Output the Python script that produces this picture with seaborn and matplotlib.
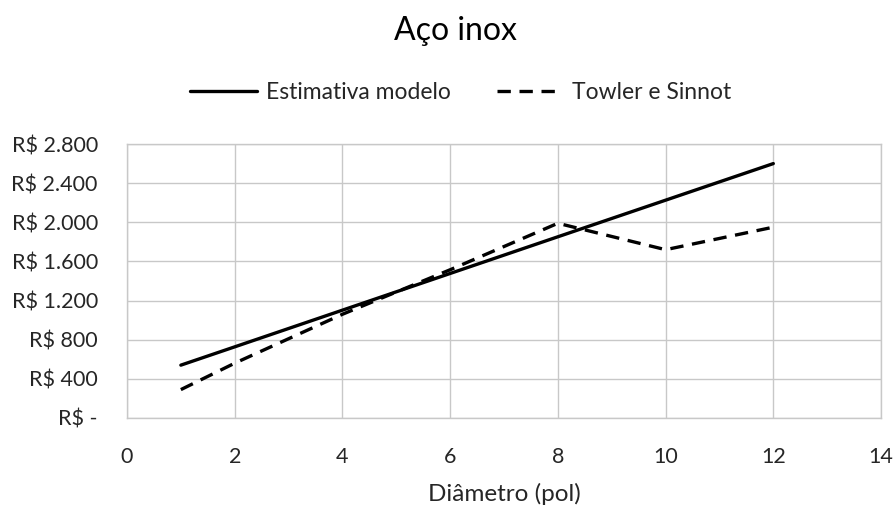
import matplotlib
matplotlib.use("Agg")
import matplotlib.pyplot as plt
import matplotlib.ticker as mticker
import seaborn as sns
import pandas as pd

# ---- data ----
diametro = [1, 2, 4, 6, 8, 10, 12]
estimativa_modelo = [540, 727, 1102, 1477, 1852, 2226, 2600]
towler_sinnot = [290, 560, 1060, 1515, 1990, 1720, 1950]
series_names = ["Estimativa modelo", "Towler e Sinnot"]
x_ticks = [0, 2, 4, 6, 8, 10, 12, 14]
y_ticks = [0, 400, 800, 1200, 1600, 2000, 2400, 2800]

df = pd.DataFrame({
    "x": diametro * 2,
    "y": estimativa_modelo + towler_sinnot,
    "serie": [series_names[0]] * len(diametro) + [series_names[1]] * len(diametro),
})

sns.set_theme(style="white")
plt.rcParams["font.family"] = ["Lato", "DejaVu Sans"]

fig = plt.figure(figsize=(8.95, 5.08), dpi=100)
ax = fig.add_axes([0.1419, 0.1772, 0.8425, 0.5393])

sns.lineplot(
    data=df, x="x", y="y", hue="serie", style="serie",
    palette={series_names[0]: "black", series_names[1]: "black"},
    dashes={series_names[0]: "", series_names[1]: (4, 2.6)},
    linewidth=2.4, ax=ax, legend=True,
)

ax.set_xlim(0, 14)
ax.set_ylim(0, 2800)
ax.set_xticks(x_ticks)
ax.set_yticks(y_ticks)


def fmt(v, pos):
    if v == 0:
        return "R$ -"
    return "R$ " + f"{int(v):,}".replace(",", ".")


ax.yaxis.set_major_formatter(mticker.FuncFormatter(fmt))
ax.grid(True, color="#c8c8c8", linewidth=1.0)
ax.set_axisbelow(True)
for s in ax.spines.values():
    s.set_color("#c8c8c8")
    s.set_linewidth(1.0)

ax.tick_params(axis="both", length=0, labelsize=15.5, colors="#262626")
ax.tick_params(axis="y", pad=21)
ax.tick_params(axis="x", pad=21)

ax.set_xlabel("Diâmetro (pol)", fontsize=17.5, color="#262626", labelpad=11)
ax.set_ylabel("")

fig.text(0.509, 0.938, "Aço inox", ha="center", va="center", fontsize=23, color="#000000")

h, l = ax.get_legend_handles_labels()
ax.get_legend().remove()
fig.legend(h, l, loc="center", bbox_to_anchor=(0.515, 0.818), ncol=2, frameon=False,
           fontsize=16.5, handlelength=2.9, columnspacing=2.0, handletextpad=0.4)

fig.savefig("out.png", dpi=100)
